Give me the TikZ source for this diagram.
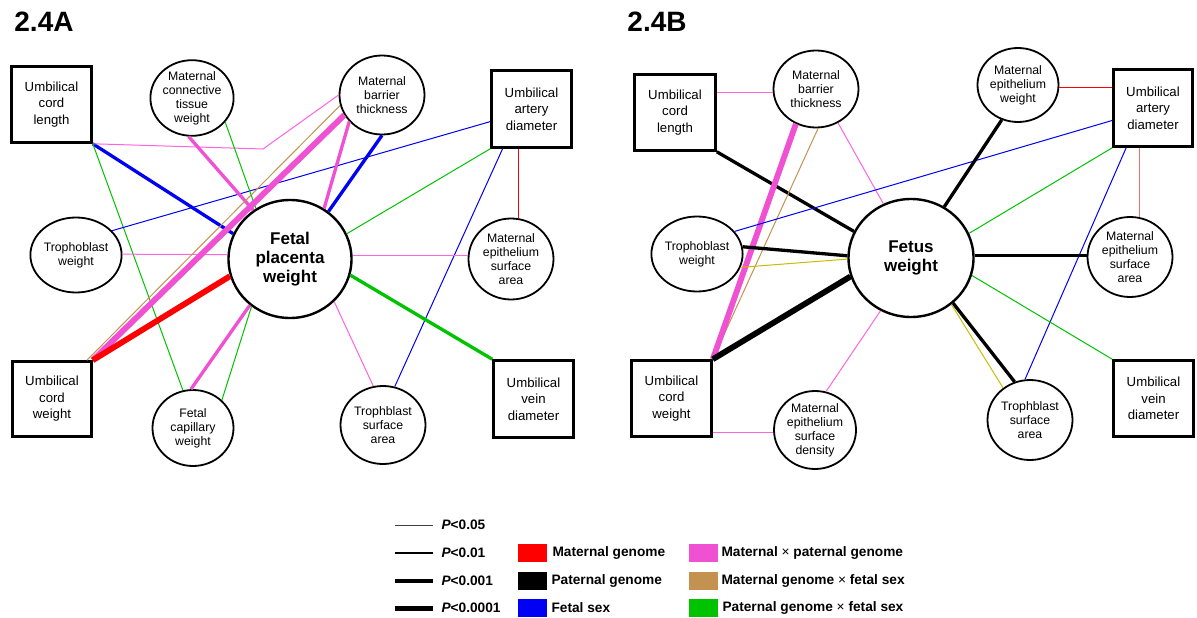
\documentclass[tikz,border=0pt]{standalone}
\usepackage{fontspec}
\setmainfont{Liberation Sans}
\usetikzlibrary{shapes.geometric,calc}
\definecolor{pinkc}{RGB}{240,80,210}
\definecolor{pinkl}{RGB}{255,100,225}
\definecolor{greenc}{RGB}{0,195,0}
\definecolor{brownc}{RGB}{196,146,80}
\definecolor{bluec}{RGB}{0,0,245}
\definecolor{redc}{RGB}{255,0,0}
\definecolor{redl}{RGB}{240,110,110}
\definecolor{olivec}{RGB}{200,190,0}
\newcommand{\mytimes}{{\mdseries ×}}
\tikzset{
 boxn/.style={draw, line width=2.6pt, rectangle, inner sep=0pt, fill=white, align=center,
   font=\fontsize{13.2}{16.5}\selectfont},
 eln/.style={draw, line width=1.8pt, ellipse, inner sep=0pt, fill=white, align=center,
   font=\fontsize{12.3}{14}\selectfont},
 bign/.style={draw, line width=2.4pt, ellipse, inner sep=0pt, fill=white, align=center,
   minimum width=123pt, minimum height=118pt, font=\bfseries\fontsize{17}{19}\selectfont},
 ttl/.style={font=\bfseries\fontsize{28}{28}\selectfont},
 pw1/.style={line width=1pt},
 pw3/.style={line width=3.3pt},
 pw5/.style={line width=5.8pt},
 lgl/.style={anchor=west, font=\bfseries\fontsize{13.7}{15}\selectfont},
 sw/.style={minimum width=29pt, minimum height=18pt, inner sep=0pt},
}
\begin{document}
\begin{tikzpicture}[x=1pt,y=-1pt]
\useasboundingbox (0,0) rectangle (1197,618);
\fill[white] (0,0) rectangle (1197,618);

% ---------------- Panel A ----------------
\node[ttl] (ta) at (44,22) {2.4A};
\node[boxn, minimum width=80pt, minimum height=76pt] (ucla) at (51.5,104.5) {Umbilical\\cord\\length};
\node[eln, minimum width=80pt, minimum height=72pt] (mcta) at (192,98) {Maternal\\connective\\tissue\\weight};
\node[eln, minimum width=81pt, minimum height=75pt] (tpwa) at (76,255) {Trophoblast\\weight};
\node[bign] (fpw) at (290,259) {Fetal\\placenta\\weight};
\node[eln, minimum width=85pt, minimum height=79pt] (mbta) at (382,95) {Maternal\\barrier\\thickness};
\node[boxn, minimum width=80pt, minimum height=77pt] (uada) at (531.5,109) {Umbilical\\artery\\diameter};
\node[eln, minimum width=85pt, minimum height=81pt] (mesaa) at (511,259) {Maternal\\epithelium\\surface\\area};
\node[boxn, minimum width=79pt, minimum height=75pt] (ucwa) at (52,399) {Umbilical\\cord\\weight};
\node[eln, minimum width=81pt, minimum height=76pt] (fcwa) at (193,428) {Fetal\\capillary\\weight};
\node[eln, minimum width=85pt, minimum height=78pt] (tsaa) at (383,425) {Trophblast\\surface\\area};
\node[boxn, minimum width=80pt, minimum height=77pt] (uvda) at (533.5,399) {Umbilical\\vein\\diameter};
\coordinate (benda) at (263,149);

\draw[bluec, pw3] (ucla.south east) -- (fpw.156);
\draw[pinkl, pw1] (ucla.south east) -- (benda) -- (mbta.180);
\draw[greenc, pw1] (ucla.south east) -- (fcwa.105);
\draw[bluec, pw1] (tpwa.34.5) -- (uada.197);
\draw[pinkl, pw1] (tpwa.1) -- (fpw.176);
\draw[pinkc, pw3] (mcta.265) -- (fpw.127.6);
\draw[greenc, pw1] (mcta.324) -- (fpw.124);
\draw[brownc, pw1] (ucwa.48.7) -- (mbta.194);
\draw[pinkc, pw5] (ucwa.north east) -- (mbta.208);
\draw[redc, pw5] (ucwa.north east) -- (fpw.196);
\draw[pinkc, pw3] (mbta.219) -- (fpw.56.8);
\draw[bluec, pw3] (mbta.270) -- (fpw.51.8);
\draw[greenc, pw1] (uada.south west) -- (fpw.24);
\draw[bluec, pw1] (uada.234.5) -- (tsaa.73.9);
\draw[redc, pw1] (uada.south -| mesaa.80) -- (mesaa.80);
\draw[pinkl, pw1] (fpw.3) -- (fpw.3 -| mesaa.west);
\draw[greenc, pw3] (fpw.345) -- (uvda.north west);
\draw[pinkl, pw1] (fpw.316) -- (tsaa.104);
\draw[pinkc, pw3] (fpw.229) -- (fcwa.93);
\draw[greenc, pw1] (fpw.231.6) -- (fcwa.44);

% ---------------- Panel B ----------------
\node[ttl] (tb) at (657,22) {2.4B};
\node[boxn, minimum width=81pt, minimum height=76pt] (uclb) at (675,112.5) {Umbilical\\cord\\length};
\node[eln, minimum width=85pt, minimum height=77pt] (mbtb) at (816,89) {Maternal\\barrier\\thickness};
\node[eln, minimum width=81pt, minimum height=75pt] (tpwb) at (697,254) {Trophoblast\\weight};
\node[bign, minimum width=125pt] (fw) at (911,258) {Fetus\\weight};
\node[eln, minimum width=81pt, minimum height=74pt] (mewb) at (1018,85) {Maternal\\epithelium\\weight};
\node[boxn, minimum width=79pt, minimum height=77pt] (uadb) at (1153,108) {Umbilical\\artery\\diameter};
\node[eln, minimum width=85pt, minimum height=80pt] (mesab) at (1130,257) {Maternal\\epithelium\\surface\\area};
\node[boxn, minimum width=80pt, minimum height=76pt] (ucwb) at (671.5,398.5) {Umbilical\\cord\\weight};
\node[eln, minimum width=82pt, minimum height=78pt] (mesd) at (815,430) {Maternal\\epithelium\\surface\\density};
\node[eln, minimum width=85pt, minimum height=80pt] (tsab) at (1030,420) {Trophblast\\surface\\area};
\node[boxn, minimum width=80pt, minimum height=76pt] (uvdb) at (1153.5,398.5) {Umbilical\\vein\\diameter};

\draw[pinkl, pw1] (mbtb.185) -- (mbtb.185 -| uclb.east);
\draw[black, pw3] (uclb.south east) -- (fw.155.4);
\draw[brownc, pw1] (mbtb.273) -- (ucwb.north east);
\draw[pinkc, pw5] (mbtb.240) -- (ucwb.north east);
\draw[pinkl, pw1] (mbtb.303) -- (fw.117.8);
\draw[bluec, pw1] (tpwb.31) -- (uadb.197.6);
\draw[black, pw3] (tpwb.9.7) -- (fw.178);
\draw[olivec, pw1] (tpwb.343.7) -- (fw.181);
\draw[black, pw5] (ucwb.north east) -- (fw.197.3);
\draw[pinkl, pw1] (mesd.183) -- (mesd.183 -| ucwb.east);
\draw[pinkl, pw1] (mesd.74.6) -- (fw.240.9);
\draw[black, pw3] (mewb.245.4) -- (fw.57.6);
\draw[redc, pw1] (mewb.357) -- (mewb.357 -| uadb.west);
\draw[greenc, pw1] (uadb.south west) -- (fw.23.8);
\draw[bluec, pw1] (uadb.236) -- (tsab.97.5);
\draw[redl, pw1] (uadb.south -| mesab.76) -- (mesab.76);
\draw[black, pw3] (fw.2) -- (fw.2 -| mesab.west);
\draw[greenc, pw1] (fw.344.4) -- (uvdb.north west);
\draw[black, pw3] (fw.313.7) -- (tsab.112);
\draw[olivec, pw1] (fw.311.8) -- (tsab.130);

% ---------------- Legend ----------------
\coordinate (l1a) at (395,525); \coordinate (l1b) at (433,525);
\coordinate (l2a) at (395,553); \coordinate (l2b) at (433,553);
\coordinate (l3a) at (395,581); \coordinate (l3b) at (433,581);
\coordinate (l4a) at (395,608); \coordinate (l4b) at (433,608);
\draw[black!75, line width=0.9pt] (l1a) -- (l1b);
\draw[black, line width=2pt] (l2a) -- (l2b);
\draw[black, line width=3.3pt] (l3a) -- (l3b);
\draw[black, line width=5pt] (l4a) -- (l4b);
\node[lgl] (p1) at (438,525) {\textit{P}<0.05};
\node[lgl] (p2) at (438,553) {\textit{P}<0.01};
\node[lgl] (p3) at (438,581) {\textit{P}<0.001};
\node[lgl] (p4) at (438,608) {\textit{P}<0.0001};

\node[sw, fill=redc] (s1) at (532.5,553) {};
\node[sw, fill=black] (s2) at (532.5,581) {};
\node[sw, fill=bluec] (s3) at (532.5,608) {};
\node[lgl] (t1) at (549,553) {Maternal genome};
\node[lgl] (t2) at (548,581) {Paternal genome};
\node[lgl] (t3) at (548,608) {Fetal sex};

\node[sw, fill=pinkc] (s4) at (703,553) {};
\node[sw, fill=brownc] (s5) at (703,581) {};
\node[sw, fill=greenc] (s6) at (703,608) {};
\node[lgl] (t4) at (718,553) {Maternal \mytimes{} paternal genome};
\node[lgl] (t5) at (718,581) {Maternal genome \mytimes{} fetal sex};
\node[lgl] (t6) at (719,608) {Paternal genome \mytimes{} fetal sex};
\end{tikzpicture}
\end{document}
